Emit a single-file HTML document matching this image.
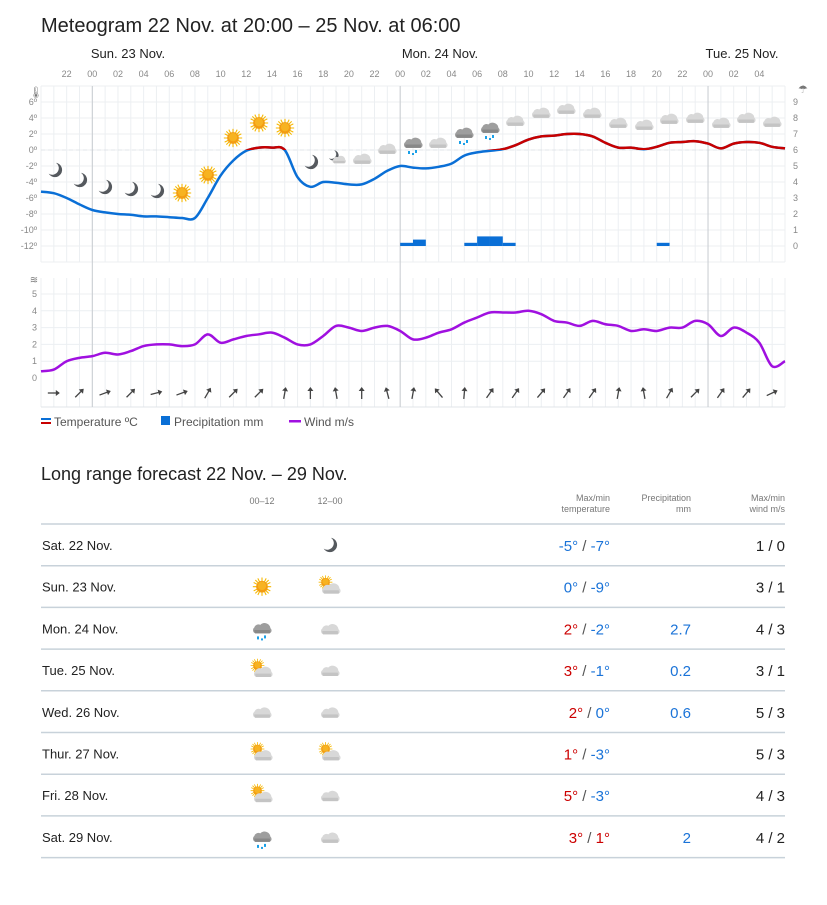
<!DOCTYPE html>
<html><head><meta charset="utf-8"><style>
body{margin:0;background:#fff;font-family:"Liberation Sans",sans-serif;}
svg text{font-family:"Liberation Sans",sans-serif;}
</style></head><body>
<svg id="s" width="827" height="900" xmlns="http://www.w3.org/2000/svg">
<defs>
<symbol id="moon" viewBox="0 0 20 20"><path d="M11 2 A8 8 0 1 1 3 14 A7 7 0 0 0 11 2Z" fill="#55595e"/></symbol>
<symbol id="sun" viewBox="0 0 24 24"><g stroke="#f6b800" stroke-width="1.3"><line x1="12" y1="1" x2="12" y2="23"/><line x1="1" y1="12" x2="23" y2="12"/><line x1="4" y1="4" x2="20" y2="20"/><line x1="20" y1="4" x2="4" y2="20"/><line x1="7" y1="2" x2="17" y2="22"/><line x1="17" y1="2" x2="7" y2="22"/><line x1="2" y1="7" x2="22" y2="17"/><line x1="2" y1="17" x2="22" y2="7"/></g><circle cx="12" cy="12" r="7" fill="#f39c12"/><circle cx="12" cy="11" r="5" fill="#f7b321"/></symbol>
<symbol id="cloud" viewBox="0 0 26 16"><path d="M5 15 A4 4 0 0 1 4 8 A5 5 0 0 1 11 5 A7 7 0 0 1 23 9 A3.5 3.5 0 0 1 22 15Z" fill="#d8d8d8"/><path d="M5 15 A4 4 0 0 1 4 11 L22 11 A3.5 3.5 0 0 1 22 15Z" fill="#c4c4c4"/></symbol>
<symbol id="dcloud" viewBox="0 0 26 16"><path d="M5 15 A4 4 0 0 1 4 8 A5 5 0 0 1 11 5 A7 7 0 0 1 23 9 A3.5 3.5 0 0 1 22 15Z" fill="#9e9e9e"/><path d="M5 15 A4 4 0 0 1 4 11 L22 11 A3.5 3.5 0 0 1 22 15Z" fill="#888"/></symbol>
</defs>
<text x="41" y="32" font-size="20" fill="#222">Meteogram 22 Nov. at 20:00 – 25 Nov. at 06:00</text>
<text x="128" y="58" font-size="13" fill="#222" text-anchor="middle">Sun. 23 Nov.</text>
<text x="440" y="58" font-size="13" fill="#222" text-anchor="middle">Mon. 24 Nov.</text>
<text x="742" y="58" font-size="13" fill="#222" text-anchor="middle">Tue. 25 Nov.</text>
<g id="g"></g>
<text x="41" y="480" font-size="18" fill="#222">Long range forecast 22 Nov. – 29 Nov.</text>
<g font-size="9" fill="#777">
<text x="262" y="504" text-anchor="middle">00–12</text>
<text x="330" y="504" text-anchor="middle">12–00</text>
<text x="610" y="501" text-anchor="end">Max/min</text><text x="610" y="512" text-anchor="end">temperature</text>
<text x="691" y="501" text-anchor="end">Precipitation</text><text x="691" y="512" text-anchor="end">mm</text>
<text x="785" y="501" text-anchor="end">Max/min</text><text x="785" y="512" text-anchor="end">wind m/s</text>
</g>
<g id="t"></g>
</svg>
<script>
var g=document.getElementById("g"),tg=document.getElementById("t");
var h="";
function X(k){return 41+k*744/58;}
for(var k=0;k<=58;k++){var x=X(k);h+='<line x1="'+x+'" y1="86" x2="'+x+'" y2="262" stroke="#eceff2"/>';h+='<line x1="'+x+'" y1="278" x2="'+x+'" y2="407" stroke="#eceff2"/>';}
for(var y=86;y<=262;y+=16)h+='<line x1="41" y1="'+y+'" x2="785" y2="'+y+'" stroke="#eceff2"/>';
for(var y=294;y<=378;y+=16.8)h+='<line x1="41" y1="'+y+'" x2="785" y2="'+y+'" stroke="#eceff2"/>';
h+='<line x1="41" y1="407" x2="785" y2="407" stroke="#e0e4e8"/><line x1="41" y1="150" x2="785" y2="150" stroke="#e0e4e8" stroke-dasharray="4 3"/>';
[4,28,52].forEach(function(k){h+='<line x1="'+X(k)+'" y1="86" x2="'+X(k)+'" y2="407" stroke="#c8ccd0"/>';});
for(var k=2;k<=57;k+=2){var hr=(20+k)%24;h+='<text x="'+X(k)+'" y="77" font-size="9" fill="#888" text-anchor="middle">'+(hr<10?"0":"")+hr+'</text>';}
for(var t=6;t>=-12;t-=2)h+='<text x="37" y="'+(153-8*t)+'" font-size="9" fill="#888" text-anchor="end">'+t+'º</text>';
for(var p=0;p<=9;p++)h+='<text x="793" y="'+(249-16*p)+'" font-size="9" fill="#888">'+p+'</text>';
for(var w=0;w<=5;w++)h+='<text x="37" y="'+(381-16.8*w)+'" font-size="9" fill="#888" text-anchor="end">'+w+'</text>';
h+='<text x="29" y="96" font-size="11" fill="#777">🌡</text><text x="34" y="283" font-size="10" fill="#777" text-anchor="middle">≋</text><text x="798" y="93" font-size="11" fill="#777">☂</text>';
[[28,.2],[29,.4],[33,.2],[34,.6],[35,.6],[36,.2],[48,.2]].forEach(function(b){var hh=b[1]*16;h+='<rect x="'+X(b[0])+'" y="'+(246-hh)+'" width="'+(744/58)+'" height="'+hh+'" fill="#0a6fd6"/>';});
function path(pts){var d="M"+pts[0][0]+","+pts[0][1];for(var i=0;i<pts.length-1;i++){var p0=pts[i-1]||pts[i],p1=pts[i],p2=pts[i+1],p3=pts[i+2]||p2;d+=" C"+(p1[0]+(p2[0]-p0[0])/6)+","+(p1[1]+(p2[1]-p0[1])/6)+" "+(p2[0]-(p3[0]-p1[0])/6)+","+(p2[1]-(p3[1]-p1[1])/6)+" "+p2[0]+","+p2[1];}return d;}
var T=[-5.2,-5.4,-6,-6.8,-7.5,-7.8,-8,-8.1,-8.3,-8.3,-8.4,-8.5,-8.5,-6,-3.2,-1.3,-0.1,0.3,0.3,0,-3.4,-4.6,-4,-4.1,-4.3,-4.3,-3.6,-2.6,-2,-2.2,-2.3,-2.1,-1.7,-0.7,-0.3,-0.1,0.1,0.6,1.3,1.7,1.8,2,2,1.7,0.9,0.3,0.3,0.1,0.4,0.9,1,1.1,0.8,0.2,0.8,1,0.9,0.4,0.2];
var td=path(T.map(function(v,k){return [X(k),150-8*v];}));
h+='<clipPath id="cr"><rect x="0" y="0" width="827" height="150"/></clipPath>';
h+='<path d="'+td+'" fill="none" stroke="#0a6fd6" stroke-width="2.5"/><path d="'+td+'" fill="none" stroke="#c80000" stroke-width="2.5" clip-path="url(#cr)"/>';
var W=[0.4,0.5,1,1.2,1.3,1.5,1.4,1.6,1.9,2,2,1.9,2,2.6,2.1,2.3,2.5,2.6,2.7,2.4,2,2,2.5,3.1,3,2.8,3,3.1,2.8,2.3,2.4,2.7,2.9,3.3,3.6,3.9,3.9,3.9,4,3.8,3.4,3.3,3.1,3.4,3.2,3.1,2.8,2.9,2.8,3,3,3.4,3.2,2.5,3,2.7,2.1,0.7,1.0];
h+='<path d="'+path(W.map(function(v,k){return [X(k),378-16.8*v];}))+'" fill="none" stroke="#a010e0" stroke-width="2.5"/>';
var A=[90,45,70,45,75,70,30,45,45,10,0,-10,0,-15,10,-40,5,35,35,40,35,35,10,-10,30,45,35,40,65];
A.forEach(function(a,i){var x=X(1+2*i);h+='<g transform="translate('+x+',393) rotate('+a+')"><line x1="0" y1="6" x2="0" y2="-5" stroke="#444" stroke-width="1.3"/><path d="M-3,-2 L0,-6 L3,-2Z" fill="#444"/></g>';});
var S=[["moon",55,170],["moon",80,180],["moon",105,187],["moon",131,189],["moon",157,191],["sun",182,193],["sun",208,175],["sun",233,138],["sun",259,123],["sun",285,128],["moon",311,162],["mc",337,157],["cloud",362,158],["cloud",387,148],["rain",413,143],["cloud",438,142],["rain",464,133],["rain",490,128],["cloud",515,120],["cloud",541,112],["cloud",566,108],["cloud",592,112],["cloud",618,122],["cloud",644,124],["cloud",669,118],["cloud",695,117],["cloud",721,122],["cloud",746,117],["cloud",772,121]];
function icon(t,x,y){var s="";
if(t=="moon")s='<use href="#moon" x="'+(x-9)+'" y="'+(y-9)+'" width="18" height="18"/>';
else if(t=="sun")s='<use href="#sun" x="'+(x-10)+'" y="'+(y-10)+'" width="20" height="20"/>';
else if(t=="cloud")s='<use href="#cloud" x="'+(x-11)+'" y="'+(y-7)+'" width="22" height="14"/>';
else if(t=="rain")s='<use href="#dcloud" x="'+(x-11)+'" y="'+(y-8)+'" width="22" height="14"/><rect x="'+(x-5)+'" y="'+(y+8)+'" width="2" height="3" fill="#1aa0e8"/><rect x="'+(x+2)+'" y="'+(y+7)+'" width="2" height="3" fill="#1aa0e8"/><rect x="'+(x-1)+'" y="'+(y+10)+'" width="2" height="2" fill="#1aa0e8"/>';
else if(t=="mc")s='<use href="#moon" x="'+(x-10)+'" y="'+(y-8)+'" width="13" height="13"/><use href="#cloud" x="'+(x-6)+'" y="'+(y-3)+'" width="16" height="10"/>';
else if(t=="sc")s='<use href="#sun" x="'+(x-12)+'" y="'+(y-12)+'" width="15" height="15"/><use href="#cloud" x="'+(x-10)+'" y="'+(y-6)+'" width="22" height="14"/>';
return s;}
S.forEach(function(s){h+=icon(s[0],s[1],s[2]);});
h+='<rect x="41" y="418" width="10" height="2" fill="#0a6fd6"/><rect x="41" y="422" width="10" height="2" fill="#c80000"/><text x="54" y="426" font-size="12" fill="#555">Temperature ºC</text>';
h+='<rect x="161" y="416" width="9" height="9" fill="#0a6fd6"/><text x="174" y="426" font-size="12" fill="#555">Precipitation mm</text>';
h+='<rect x="289" y="420" width="12" height="2.5" fill="#a010e0"/><text x="304" y="426" font-size="12" fill="#555">Wind m/s</text>';
g.innerHTML=h;
var R=[["Sat. 22 Nov.","","moon",-5,-7,"","1 / 0"],["Sun. 23 Nov.","sun","sc",0,-9,"","3 / 1"],["Mon. 24 Nov.","rain","cloud",2,-2,"2.7","4 / 3"],["Tue. 25 Nov.","sc","cloud",3,-1,"0.2","3 / 1"],["Wed. 26 Nov.","cloud","cloud",2,0,"0.6","5 / 3"],["Thur. 27 Nov.","sc","sc",1,-3,"","5 / 3"],["Fri. 28 Nov.","sc","cloud",5,-3,"","4 / 3"],["Sat. 29 Nov.","rain","cloud",3,1,"2","4 / 2"]];
var s='<line x1="41" y1="524" x2="785" y2="524" stroke="#c8d2da" stroke-width="1.5"/>';
R.forEach(function(r,i){var y0=524+41.7*i,cy=y0+21;
s+='<line x1="41" y1="'+(y0+41.7)+'" x2="785" y2="'+(y0+41.7)+'" stroke="#c8d2da" stroke-width="1.5"/>';
s+='<text x="42" y="'+(cy+5)+'" font-size="13" fill="#222">'+r[0]+'</text>';
if(r[1])s+=icon(r[1],262,cy);s+=icon(r[2],330,cy);
function c(v){return v>0?"#c00":"#1a73d8";}
s+='<text x="610" y="'+(cy+6)+'" font-size="15" text-anchor="end"><tspan fill="'+c(r[3])+'">'+r[3]+'°</tspan><tspan fill="#555"> / </tspan><tspan fill="'+c(r[4])+'">'+r[4]+'°</tspan></text>';
if(r[5])s+='<text x="691" y="'+(cy+6)+'" font-size="15" fill="#1a73d8" text-anchor="end">'+r[5]+'</text>';
s+='<text x="785" y="'+(cy+6)+'" font-size="15" fill="#222" text-anchor="end">'+r[6]+'</text>';});
tg.innerHTML=s;
</script>
</body></html>
